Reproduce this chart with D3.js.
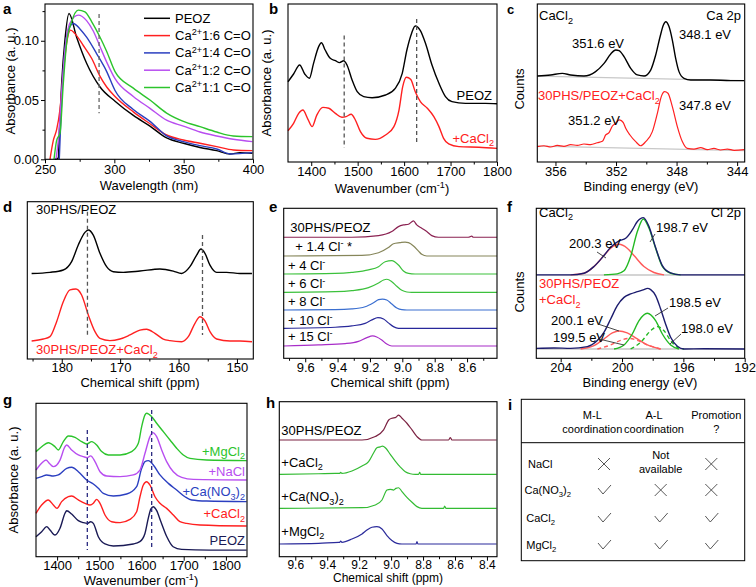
<!DOCTYPE html>
<html><head><meta charset="utf-8">
<script src="https://cdn.jsdelivr.net/npm/d3@7"></script>
<style>body{margin:0;background:#fff}</style></head>
<body><script>
// ---------------- DATA ----------------
// panel a : UV-vis, [wavelength nm, absorbance]
const aNames = ["PEOZ","1:6 C=O","1:4 C=O","1:2 C=O","1:1 C=O"];
const aPEOZ = [[257.2,0],[259.6,0.001],[260.3,0.022],[262.0,0.064],[264.4,0.101],[267.3,0.123],[272.8,0.103],[280,0.081],[289.7,0.061],[300.5,0.049],[313.7,0.037],[325.7,0.028],[337.7,0.018],[349.8,0.0135],[361.8,0.010],[373.8,0.0073],[383.4,0.0045],[390.6,0.0056],[399.5,0.0051]];
const a16 = [[253.6,0],[256.0,0.016],[258.4,0.025],[260.8,0.042],[263.2,0.073],[265.6,0.098],[268.5,0.109],[271.6,0.106],[277.6,0.096],[283.7,0.085],[289.7,0.070],[294.5,0.061],[300.5,0.053],[313.7,0.040],[325.7,0.030],[337.7,0.0205],[349.8,0.0163],[361.8,0.0135],[373.8,0.0107],[385.8,0.0079],[399.5,0.0073]];
const a14 = [[260.3,0],[262.0,0.050],[264.4,0.092],[266.8,0.109],[270.4,0.1146],[275.2,0.110],[280.0,0.103],[287.3,0.089],[294.5,0.074],[300.5,0.058],[313.7,0.042],[325.7,0.032],[337.7,0.0197],[349.8,0.0149],[361.8,0.0115],[373.8,0.0087],[383.4,0.0045],[399.5,0.0056]];
const a12 = [[257.9,0],[259.6,0.016],[262.0,0.056],[264.4,0.092],[268.0,0.115],[274.0,0.1216],[280.0,0.117],[284.9,0.108],[289.7,0.095],[294.5,0.082],[300.5,0.068],[313.7,0.053],[325.7,0.043],[337.7,0.033],[349.8,0.028],[361.8,0.023],[373.8,0.0197],[385.8,0.0169],[399.5,0.0149]];
const a11 = [[256.5,0],[258.4,0.016],[260.8,0.022],[263.2,0.064],[265.6,0.098],[269.2,0.116],[274.0,0.1258],[278.8,0.1244],[283.7,0.116],[289.7,0.103],[294.5,0.091],[300.5,0.074],[313.7,0.060],[325.7,0.050],[337.7,0.039],[349.8,0.032],[361.8,0.0275],[373.8,0.023],[385.8,0.0197],[399.5,0.0191]];
const aTicks = [250,300,350,400];
const aYTicks = [0.00,0.05,0.10];

// panel b : FTIR, [wavenumber, normalized absorbance]
const bPEOZ = [[1350,0.508],[1362,0.557],[1375,0.614],[1386,0.557],[1396,0.530],[1405,0.624],[1416,0.730],[1422,0.755],[1430,0.709],[1441,0.656],[1452,0.641],[1461,0.629],[1470,0.641],[1477,0.614],[1488,0.519],[1499,0.445],[1513,0.414],[1531,0.407],[1560,0.424],[1581,0.466],[1596,0.561],[1606,0.709],[1616,0.814],[1624,0.861],[1635,0.831],[1646,0.751],[1660,0.614],[1675,0.498],[1689,0.414],[1703,0.382],[1732,0.371],[1775,0.371],[1800,0.369]];
const bCaCl2 = [[1350,0.198],[1362,0.245],[1373,0.308],[1382,0.329],[1393,0.270],[1402,0.224],[1412,0.297],[1425,0.346],[1438,0.340],[1452,0.308],[1466,0.283],[1475,0.287],[1486,0.302],[1495,0.266],[1506,0.192],[1520,0.150],[1538,0.143],[1560,0.171],[1578,0.224],[1589,0.329],[1597,0.477],[1605,0.536],[1614,0.523],[1624,0.445],[1635,0.382],[1650,0.340],[1664,0.287],[1675,0.224],[1685,0.150],[1696,0.114],[1718,0.097],[1761,0.093],[1800,0.086]];
const bTicks = [1400,1500,1600,1700,1800];
const bDashes = [1471,1627];

// panel c : XPS Ca 2p, [binding energy eV, counts (norm.)]
const cCaCl2 = [[357.2,0.544],[356.32,0.551],[355.55,0.561],[355.0,0.551],[354.12,0.544],[353.35,0.572],[352.79,0.624],[352.35,0.684],[352.02,0.709],[351.8,0.705],[351.47,0.667],[351.03,0.593],[350.59,0.551],[350.15,0.544],[349.71,0.582],[349.38,0.677],[349.09,0.793],[348.87,0.867],[348.72,0.888],[348.5,0.857],[348.28,0.772],[348.06,0.656],[347.84,0.572],[347.51,0.530],[347.07,0.519],[345.75,0.519],[344.42,0.515],[343.54,0.515]];
const cMix = [[357.2,0.097],[356.76,0.103],[356.32,0.095],[355.88,0.105],[355.44,0.099],[355.0,0.110],[354.56,0.105],[354.12,0.114],[353.68,0.110],[353.24,0.122],[352.9,0.131],[352.68,0.171],[352.46,0.186],[352.24,0.228],[352.02,0.245],[351.8,0.266],[351.65,0.262],[351.52,0.249],[351.36,0.213],[351.08,0.171],[350.7,0.129],[350.37,0.103],[350.04,0.129],[349.6,0.192],[349.27,0.308],[349.01,0.414],[348.79,0.445],[348.57,0.435],[348.28,0.350],[347.95,0.224],[347.62,0.129],[347.29,0.086],[346.85,0.082],[346.41,0.091],[345.97,0.078],[345.53,0.086],[345.09,0.076],[344.64,0.082],[344.2,0.074],[343.54,0.078]];
const cBase1 = [[357.2,0.544],[343.54,0.515]];
const cBase2 = [[357.2,0.101],[343.54,0.072]];
const cTicks = [356,352,348,344];

// panel d : 13C NMR, [ppm, intensity]
const dPure = [[185.16,0.544],[182.02,0.551],[179.74,0.566],[178.31,0.619],[177.17,0.725],[176.03,0.805],[175.45,0.820],[174.6,0.788],[173.46,0.672],[172.32,0.587],[171.17,0.555],[169.46,0.551],[166.61,0.559],[163.18,0.572],[160.9,0.559],[159.47,0.544],[158.05,0.587],[156.9,0.661],[156.16,0.699],[155.48,0.672],[154.62,0.597],[153.48,0.551],[151.77,0.551],[149.48,0.544],[147.43,0.544]];
const dMix = [[185.16,0.114],[183.16,0.127],[182.02,0.142],[180.88,0.237],[179.74,0.364],[178.59,0.439],[177.57,0.445],[176.6,0.407],[175.45,0.280],[174.31,0.174],[173.46,0.131],[171.74,0.117],[170.03,0.127],[168.32,0.153],[166.61,0.184],[165.47,0.189],[164.04,0.163],[162.61,0.127],[161.47,0.117],[159.47,0.110],[158.33,0.142],[157.19,0.227],[156.33,0.269],[155.48,0.242],[154.62,0.174],[153.48,0.127],[151.2,0.114],[149.48,0.114],[147.43,0.110]];
const dTicks = [180,170,160,150];
const dDashes = [175.6,155.9];

// panel e : 1H NMR titration, [ppm, height above own baseline]
const eLabels = ["30PHS/PEOZ","+ 1.4 Cl","+ 4 Cl","+ 6 Cl","+ 8 Cl","+ 10 Cl","+ 15 Cl"];
const eOffsets = [0.807,0.682,0.562,0.440,0.322,0.200,0.082];
const eSpectra = [
 [[9.734,0],[9.312,0],[9.147,0.011],[9.065,0.038],[9.024,0.071],[8.993,0.082],[8.962,0.087],[8.931,0.109],[8.911,0.082],[8.880,0.060],[8.849,0.038],[8.818,0.011],[8.777,0],[8.592,0],[8.571,0.007],[8.561,0],[8.415,0]],
 [[9.734,0],[9.250,0.004],[9.147,0.022],[9.086,0.056],[9.055,0.082],[9.014,0.089],[8.983,0.093],[8.962,0.089],[8.931,0.067],[8.900,0.033],[8.880,0.011],[8.849,0],[8.695,0],[8.415,0]],
 [[9.734,0],[9.415,0.004],[9.312,0.011],[9.209,0.027],[9.147,0.049],[9.106,0.082],[9.065,0.089],[9.024,0.060],[8.993,0.020],[8.962,0.004],[8.921,0],[8.415,0]],
 [[9.734,0],[9.415,0.004],[9.312,0.011],[9.209,0.031],[9.147,0.062],[9.116,0.082],[9.096,0.087],[9.065,0.071],[9.034,0.040],[9.003,0.013],[8.972,0.002],[8.942,0],[8.415,0]],
 [[9.734,0],[9.415,0.002],[9.312,0.007],[9.230,0.022],[9.178,0.049],[9.147,0.069],[9.123,0.073],[9.096,0.067],[9.065,0.040],[9.034,0.013],[9.003,0.002],[8.972,0],[8.415,0]],
 [[9.734,0],[9.415,0.007],[9.312,0.016],[9.230,0.033],[9.188,0.056],[9.151,0.071],[9.116,0.062],[9.086,0.036],[9.055,0.011],[9.024,0],[8.415,0]],
 [[9.734,0],[9.518,0.007],[9.353,0.016],[9.271,0.031],[9.219,0.056],[9.184,0.067],[9.158,0.060],[9.127,0.040],[9.096,0.013],[9.065,0],[8.415,0]]
];
const eTicks = [9.6,9.4,9.2,9.0,8.8,8.6];

// panel f : XPS Cl 2p, [eV, height above baseline]
const fOffsets = [0.556,0.062];
const fEnvTop = [[205.59,0],[203.35,0],[202.48,0.011],[201.83,0.056],[201.18,0.129],[200.74,0.184],[200.2,0.227],[199.76,0.244],[199.33,0.300],[199.0,0.356],[198.61,0.382],[198.24,0.322],[197.81,0.182],[197.37,0.062],[196.83,0.013],[196.18,0],[192.0,0]];
const fRedTop = [[203.35,0],[202.48,0.011],[201.83,0.056],[201.18,0.129],[200.74,0.178],[200.2,0.204],[199.66,0.178],[199.22,0.129],[198.57,0.056],[197.92,0.016],[197.26,0]];
const fGreenTop = [[201.18,0],[200.31,0.007],[199.87,0.027],[199.44,0.122],[199.0,0.289],[198.61,0.373],[198.24,0.311],[197.81,0.178],[197.37,0.056],[196.83,0.011],[196.18,0]];
const fEnvBot = [[205.59,0.004],[204.44,0.007],[203.35,0.004],[202.26,0.016],[201.61,0.056],[201.18,0.111],[200.74,0.200],[200.31,0.289],[199.87,0.344],[199.44,0.367],[199.0,0.382],[198.57,0.396],[198.35,0.404],[198.13,0.396],[197.81,0.356],[197.48,0.267],[197.16,0.167],[196.83,0.078],[196.39,0.018],[195.96,0],[194.66,0.002],[192.0,0]];
const fGreenBot = [[200.52,0],[199.87,0.027],[199.33,0.100],[198.89,0.189],[198.35,0.238],[197.81,0.189],[197.37,0.100],[196.83,0.027],[196.29,0]];
const fRedBot = [[202.7,0],[201.83,0.022],[201.18,0.067],[200.63,0.107],[200.2,0.120],[199.66,0.107],[199.0,0.067],[198.35,0.027],[197.48,0]];
const fRedDash = [[201.61,0],[200.74,0.027],[200.09,0.058],[199.55,0.071],[199.0,0.058],[198.35,0.027],[197.48,0]];
const fGreenDash = [[199.44,0],[198.79,0.044],[198.13,0.122],[197.7,0.149],[197.26,0.122],[196.83,0.056],[196.39,0.011],[195.96,0]];
const fTicks = [204,200,196,192];

// panel g : FTIR of salts, [wavenumber, absorbance]
const gNames = ["PEOZ","+CaCl","+Ca(NO","+NaCl","+MgCl"];
const gPEOZ = [[1350,0.130],[1363.4,0.163],[1375.3,0.196],[1383.2,0.174],[1395,0.141],[1406.9,0.185],[1418.7,0.283],[1422.7,0.300],[1434.5,0.278],[1450.3,0.235],[1462.2,0.222],[1471.6,0.217],[1479.5,0.228],[1485.9,0.217],[1497.7,0.130],[1513.5,0.083],[1533.3,0.070],[1580.6,0.083],[1596,0.098],[1608,0.150],[1616,0.250],[1622,0.310],[1628,0.326],[1636,0.300],[1646,0.228],[1660,0.130],[1675,0.065],[1695,0.048],[1760,0.043],[1849,0.043]];
const gCaCl2 = [[1350,0.283],[1363.4,0.337],[1379.2,0.370],[1391.1,0.337],[1399.8,0.315],[1410.8,0.359],[1426.6,0.391],[1434.5,0.396],[1450.3,0.370],[1466.1,0.348],[1478,0.337],[1485.9,0.348],[1493.8,0.374],[1501.7,0.348],[1513.5,0.272],[1529.3,0.228],[1549.1,0.222],[1572.7,0.243],[1588.5,0.293],[1596.4,0.391],[1604.3,0.467],[1612.2,0.489],[1620.1,0.467],[1632,0.391],[1643.8,0.348],[1659.6,0.315],[1675.4,0.272],[1691.2,0.228],[1707,0.217],[1738.6,0.207],[1849,0.200]];
const gCaNO3 = [[1350,0.511],[1363.4,0.522],[1375.3,0.533],[1391.1,0.526],[1402.9,0.533],[1422.7,0.576],[1434.5,0.583],[1450.3,0.554],[1470.1,0.500],[1485.9,0.474],[1497.7,0.446],[1509.6,0.413],[1533.3,0.396],[1564.8,0.409],[1588.5,0.457],[1600.4,0.576],[1608.3,0.620],[1616.2,0.626],[1628,0.598],[1643.8,0.533],[1663.6,0.478],[1683.3,0.435],[1703.1,0.391],[1718.9,0.370],[1754.4,0.363],[1849,0.359]];
const gNaCl = [[1350,0.565],[1363.4,0.609],[1373.7,0.630],[1383.2,0.604],[1391.1,0.587],[1406.9,0.630],[1418.7,0.717],[1422.7,0.728],[1434.5,0.696],[1450.3,0.663],[1462.2,0.652],[1471.6,0.646],[1479.5,0.657],[1489.8,0.620],[1501.7,0.554],[1517.5,0.526],[1549.1,0.522],[1580.6,0.533],[1596.4,0.565],[1608.3,0.674],[1620.1,0.783],[1626.5,0.809],[1635.9,0.783],[1647.8,0.696],[1659.6,0.620],[1675.4,0.554],[1695.2,0.517],[1722.8,0.504],[1849,0.500]];
const gMgCl2 = [[1350,0.685],[1363.4,0.717],[1379.2,0.743],[1395,0.717],[1402.9,0.696],[1414.8,0.750],[1426.6,0.787],[1442.4,0.778],[1458.2,0.750],[1470.1,0.735],[1481.9,0.750],[1493.8,0.728],[1505.6,0.685],[1521.4,0.663],[1549.1,0.663],[1576.7,0.685],[1592.5,0.739],[1600.4,0.848],[1608.3,0.924],[1612.2,0.935],[1624.1,0.913],[1635.9,0.870],[1651.7,0.815],[1667.5,0.761],[1683.3,0.707],[1699.1,0.663],[1714.9,0.641],[1754.4,0.630],[1849,0.626]];
const gTicks = [1400,1500,1600,1700,1800];
const gDashes = [1471.6,1624.1];

// panel h : 1H NMR of salts, [ppm, height above own baseline]
const hLabels = ["30PHS/PEOZ","+CaCl","+Ca(NO","+MgCl"];
const hOffsets = [0.753,0.531,0.312,0.082];
const hSpectra = [
 [[9.70,0],[9.182,0],[9.099,0.022],[9.047,0.065],[9.015,0.129],[8.995,0.140],[8.970,0.146],[8.953,0.161],[8.932,0.140],[8.901,0.108],[8.869,0.065],[8.838,0.022],[8.807,0],[8.640,0],[8.629,0.015],[8.619,0],[8.34,0]],
 [[9.70,0],[9.454,0.004],[9.349,0.006],[9.322,0.006],[9.316,0.013],[9.308,0.006],[9.245,0.022],[9.182,0.054],[9.141,0.082],[9.109,0.140],[9.089,0.172],[9.068,0.178],[9.053,0.183],[9.036,0.172],[9.005,0.129],[8.974,0.086],[8.942,0.047],[8.911,0.017],[8.880,0.004],[8.848,0],[8.828,0],[8.821,0.013],[8.815,0],[8.34,0]],
 [[9.70,0],[9.182,0.004],[9.099,0.022],[9.057,0.054],[9.026,0.118],[9.005,0.123],[8.984,0.118],[8.970,0.129],[8.953,0.133],[8.932,0.108],[8.901,0.071],[8.869,0.039],[8.838,0.011],[8.807,0],[8.671,0],[8.665,0.015],[8.656,0],[8.34,0]],
 [[9.70,0],[9.454,0.004],[9.329,0.011],[9.322,0.011],[9.316,0.019],[9.308,0.011],[9.245,0.032],[9.182,0.065],[9.151,0.090],[9.120,0.108],[9.089,0.112],[9.057,0.097],[9.026,0.054],[8.995,0.022],[8.963,0.004],[8.932,0],[8.844,0],[8.838,0.015],[8.832,0],[8.34,0]]
];
const hTicks = [9.6,9.4,9.2,9.0,8.8,8.6,8.4];

// panel i : table
const iRows = ["NaCl","Ca(NO3)2","CaCl2","MgCl2"];
const iCols = ["M-L coordination","A-L coordination","Promotion ?"];
const iMarks = [["x","na","x"],["v","x","x"],["v","v","v"],["v","v","v"]];

// ---------------- DRAWING ----------------
const FONT = "'Liberation Sans', Arial, Helvetica, sans-serif";
const svg = d3.select('body').append('svg').attr('width',756).attr('height',587).attr('font-family',FONT);
svg.append('rect').attr('width',756).attr('height',587).attr('fill','#fff');

function rich(x,y,segs,o={}){
  const fs=o.fs||13;
  const t=svg.append('text').attr('x',x).attr('y',y).attr('font-size',fs)
    .attr('fill',o.fill||'#000').attr('text-anchor',o.anchor||'start');
  if(o.rotate) t.attr('transform',`rotate(-90,${x},${y})`);
  if(o.bold) t.attr('font-weight','bold');
  let shift=0;
  segs.forEach(s=>{
    const [txt,type]=Array.isArray(s)?s:[s,''];
    const target = type==='sub'?fs*0.28:(type==='sup'?-fs*0.36:0);
    t.append('tspan').text(txt).attr('dy',target-shift).attr('font-size',type?fs*0.7:fs);
    shift=target;
  });
  return t;
}
function panel(fr,xd,yd){
  return {x:d3.scaleLinear().domain(xd).range([fr[0],fr[1]]),
          y:d3.scaleLinear().domain(yd).range([fr[3],fr[2]]), fr};
}
function frame(p){
  svg.append('rect').attr('x',p.fr[0]).attr('y',p.fr[2]).attr('width',p.fr[1]-p.fr[0])
    .attr('height',p.fr[3]-p.fr[2]).attr('fill','none').attr('stroke','#000').attr('stroke-width',1.1);
}
function xAxis(p,ticks,fmt,o={}){
  const g=svg.append('g').attr('transform',`translate(0,${p.fr[3]})`);
  const minor=[];
  for(let i=0;i<ticks.length-1;i++) minor.push((ticks[i]+ticks[i+1])/2);
  const lo=Math.min(...p.x.domain()), hi=Math.max(...p.x.domain());
  const step=ticks[1]-ticks[0];
  [ticks[0]-step/2, ticks[ticks.length-1]+step/2].forEach(v=>{ if(v>lo&&v<hi) minor.push(v); });
  g.append('g').call(d3.axisBottom(p.x).tickValues(minor).tickSize(2.5).tickFormat(''));
  g.append('g').call(d3.axisBottom(p.x).tickValues(ticks).tickSize(4).tickPadding(o.pad==null?1:o.pad).tickFormat(fmt));
  g.selectAll('.domain').remove();
  g.selectAll('text').attr('font-size',o.fs||13).attr('font-family',FONT).attr('fill','#000');
  g.selectAll('line').attr('stroke','#000');
}
function curve(p,data,color,off=0,o={}){
  const gen=d3.line().x(d=>p.x(d[0])).y(d=>p.y(d[1]+off)).curve(d3.curveMonotoneX);
  svg.append('path').attr('d',gen(data)).attr('fill','none').attr('stroke',color)
    .attr('stroke-width',o.w||1.4).attr('stroke-dasharray',o.dash||null).attr('stroke-linejoin','round');
}
function vdash(p,xv,y0,y1,color){
  svg.append('line').attr('x1',p.x(xv)).attr('x2',p.x(xv)).attr('y1',p.y(y0)).attr('y2',p.y(y1))
    .attr('stroke',color).attr('stroke-width',1.3).attr('stroke-dasharray','4,3');
}
function letter(x,y,t){ rich(x,y,[t],{fs:15,bold:true}); }

// ---- panel a
{
  const p=panel([45,253,4,159.3],[250,400],[0,0.131]);
  const cols=["#000000","#ff2020","#2b3fc0","#b84ef0","#2cc42c"];
  const series=[aPEOZ,a16,a14,a12,a11];
  series.forEach((s,i)=>curve(p,s,cols[i]));
  vdash(p,289,0.1226,0.0389,'#666');
  frame(p);
  xAxis(p,aTicks,d3.format('d'));
  const g=svg.append('g').attr('transform',`translate(${p.fr[0]},0)`);
  g.append('g').call(d3.axisLeft(p.y).tickValues([0.025,0.075,0.125]).tickSize(2.5).tickFormat(''));
  g.append('g').call(d3.axisLeft(p.y).tickValues(aYTicks).tickSize(4).tickPadding(2).tickFormat(d3.format('.2f')));
  g.selectAll('.domain').remove();
  g.selectAll('text').attr('font-size',13).attr('font-family',FONT).attr('fill','#000');
  aNames.forEach((n,i)=>{
    const yy=18.3+i*17.3;
    svg.append('line').attr('x1',144).attr('x2',170).attr('y1',yy).attr('y2',yy).attr('stroke',cols[i]).attr('stroke-width',1.5);
    if(i===0) rich(175,yy+4.5,[n]);
    else rich(175,yy+4.5,["Ca",["2+","sup"],n]);
  });
  rich(149,190,["Wavelength (nm)"],{anchor:'middle'});
  rich(15,81,["Absorbance (a. u.)"],{anchor:'middle',rotate:true});
  letter(3,14,"a");
}
// ---- panel b
{
  const p=panel([288,497,4,162],[1350,1800],[0,1]);
  curve(p,bPEOZ,'#000');
  curve(p,bCaCl2,'#ff2020');
  vdash(p,bDashes[0],0.8,0.09,'#555');
  vdash(p,bDashes[1],0.905,0.11,'#555');
  frame(p);
  xAxis(p,bTicks,d3.format('d'));
  rich(492,100,["PEOZ"],{anchor:'end'});
  rich(494,142.5,["+CaCl",["2","sub"]],{anchor:'end',fill:'#ff2020'});
  rich(392,192.5,["Wavenumber (cm",["-1","sup"],")"],{anchor:'middle'});
  rich(271,83,["Absorbance (a. u.)"],{anchor:'middle',rotate:true});
  letter(269,14,"b");
}
// ---- panel c
{
  const p=panel([537.3,744.7,4,162],[357.2,343.5],[0,1]);
  curve(p,cBase1,'#c8c8c8',0,{w:1.2});
  curve(p,cBase2,'#c8c8c8',0,{w:1.2});
  curve(p,cCaCl2,'#000');
  curve(p,cMix,'#ff2020',0,{w:1.2});
  frame(p);
  xAxis(p,cTicks,d3.format('d'));
  rich(539,20,["CaCl",["2","sub"]]);
  rich(741,20,["Ca 2p"],{anchor:'end'});
  rich(572,48.3,["351.6 eV"]);
  rich(679,39.3,["348.1 eV"]);
  rich(538,100,["30PHS/PEOZ+CaCl",["2","sub"]],{fill:'#ff2020'});
  rich(679,110,["347.8 eV"]);
  rich(568,125,["351.2 eV"]);
  rich(641,191,["Binding energy (eV)"],{anchor:'middle'});
  rich(524,89,["Counts"],{anchor:'middle',rotate:true});
  rich(507,14,["c"],{fs:13,bold:true});
}
// ---- panel d
{
  const p=panel([27.3,253.3,201.7,359],[185.9,147.2],[0,1]);
  curve(p,dPure,'#000');
  curve(p,dMix,'#ff2020');
  vdash(p,dDashes[0],0.936,0.142,'#555');
  vdash(p,dDashes[1],0.788,0.153,'#555');
  frame(p);
  xAxis(p,dTicks,d3.format('d'),{pad:0});
  rich(36,214.3,["30PHS/PEOZ"]);
  rich(36,354.3,["30PHS/PEOZ+CaCl",["2","sub"]],{fill:'#ff2020'});
  rich(140,387,["Chemical shift (ppm)"],{anchor:'middle'});
  letter(3,212,"d");
}
// ---- panel e
{
  const p=panel([283.7,497,208.3,358.3],[9.733,8.415],[0,1]);
  const cols=["#8b2252","#86865a","#3cc13c","#3cc13c","#3b6fd0","#28289a","#a82dc8"];
  eSpectra.forEach((s,i)=>curve(p,s,cols[i],eOffsets[i],{w:1.2}));
  frame(p);
  xAxis(p,eTicks,d3.format('.1f'),{pad:0});
  const lx=[290.3,295.3,288,288,288,288,288];
  const ly=[231.7,251,270,288.3,306,325,340.7];
  eLabels.forEach((t,i)=>{
    if(i===0) rich(lx[i],ly[i],[t]);
    else if(i===1) rich(lx[i],ly[i],[t,["-","sup"]," *"]);
    else rich(lx[i],ly[i],[t,["-","sup"]]);
  });
  rich(390,387,["Chemical shift (ppm)"],{anchor:'middle'});
  letter(269,212,"e");
}
// ---- panel f
{
  const p=panel([536.3,744.7,208.3,358.3],[205.59,192],[0,1]);
  const base=[[205.59,0],[192,0]];
  curve(p,base,'#d4d4d4',fOffsets[0],{w:2});
  curve(p,base,'#d4d4d4',fOffsets[1],{w:2});
  curve(p,fRedTop,'#ff5a5a',fOffsets[0]);
  curve(p,fGreenTop,'#22b922',fOffsets[0]);
  curve(p,fEnvTop,'#1c1c6e',fOffsets[0]);
  curve(p,fRedBot,'#ff5a5a',fOffsets[1]);
  curve(p,fRedDash,'#ff5a5a',fOffsets[1],{dash:'4,3'});
  curve(p,fGreenBot,'#22b922',fOffsets[1]);
  curve(p,fGreenDash,'#22b922',fOffsets[1],{dash:'4,3'});
  curve(p,fEnvBot,'#1c1c6e',fOffsets[1]);
  frame(p);
  xAxis(p,fTicks,d3.format('d'),{pad:0});
  const lead=(x1,y1,x2,y2)=>svg.append('line').attr('x1',x1).attr('y1',y1).attr('x2',x2).attr('y2',y2).attr('stroke','#333').attr('stroke-width',0.9);
  rich(539,216.7,["CaCl",["2","sub"]]);
  rich(741,216.7,["Cl 2p"],{anchor:'end'});
  rich(569,248.3,["200.3 eV"]);
  lead(597,252,606,258);
  rich(656,231.7,["198.7 eV"]);
  lead(655,234,650,242);
  rich(539,288.3,["30PHS/PEOZ"],{fill:'#ff2020'});
  rich(539,304.3,["+CaCl",["2","sub"]],{fill:'#ff2020'});
  rich(669,306.7,["198.5 eV"]);
  lead(668,308,655,316);
  rich(551,325,["200.1 eV"]);
  lead(598,324,619,331);
  rich(553,341.7,["199.5 eV"]);
  lead(599,339,624,345);
  rich(681,333.3,["198.0 eV"]);
  lead(681,334,670,344);
  rich(640,387,["Binding energy (eV)"],{anchor:'middle'});
  rich(524,292,["Counts"],{anchor:'middle',rotate:true});
  letter(507,212,"f");
}
// ---- panel g
{
  const p=panel([36,247,403.3,556.7],[1350,1850],[0,1]);
  const cols=["#1a1a55","#ff2020","#2b3fc0","#b84ef0","#2cc42c"];
  const series=[gPEOZ,gCaCl2,gCaNO3,gNaCl,gMgCl2];
  series.forEach((s,i)=>curve(p,s,cols[i]));
  vdash(p,gDashes[0],0.826,0.043,'#2a2a80');
  vdash(p,gDashes[1],0.957,0.043,'#2a2a80');
  frame(p);
  xAxis(p,gTicks,d3.format('d'),{pad:0});
  rich(245,545,["PEOZ"],{anchor:'end',fill:cols[0]});
  rich(245,518.3,["+CaCl",["2","sub"]],{anchor:'end',fill:cols[1]});
  rich(245,496,["+Ca(NO",["3","sub"],")",["2","sub"]],{anchor:'end',fill:cols[2]});
  rich(245,476,["+NaCl"],{anchor:'end',fill:cols[3]});
  rich(245,455.7,["+MgCl",["2","sub"]],{anchor:'end',fill:cols[4]});
  rich(141,585,["Wavenumber (cm",["-1","sup"],")"],{anchor:'middle'});
  rich(18,480,["Absorbance (a. u.)"],{anchor:'middle',rotate:true});
  letter(3,405,"g");
}
// ---- panel h
{
  const p=panel([279.3,497,401.7,556.7],[9.70,8.337],[0,1]);
  const cols=["#7b2242","#33bb33","#33bb33","#2b2b9b"];
  hSpectra.forEach((s,i)=>curve(p,s,cols[i],hOffsets[i],{w:1.2}));
  frame(p);
  xAxis(p,hTicks,d3.format('.1f'),{pad:0,fs:12});
  rich(281.3,435,["30PHS/PEOZ"]);
  rich(281.3,466.7,["+CaCl",["2","sub"]]);
  rich(281.3,501,["+Ca(NO",["3","sub"],")",["2","sub"]]);
  rich(281.3,535.7,["+MgCl",["2","sub"]]);
  rich(388,582,["Chemical shift (ppm)"],{anchor:'middle',fs:12});
  letter(266,408,"h");
}
// ---- panel i : table
{
  const x0=521.3,x1=744.7,y0=399.3,y1=560.7,ySep=442.7;
  svg.append('rect').attr('x',x0).attr('y',y0).attr('width',x1-x0).attr('height',y1-y0).attr('fill','none').attr('stroke','#000').attr('stroke-width',1);
  svg.append('line').attr('x1',x0).attr('x2',x1).attr('y1',ySep).attr('y2',ySep).attr('stroke','#000');
  const colX=[604,660.7,711.3];
  const rowY=[464,490,518,545];
  iCols.forEach((c,i)=>{
    const parts = i<2 ? [c.split(' ')[0], c.split(' ')[1]] : ["Promotion","?"];
    const cx = i===2?716.3:(i===0?592.3:654);
    rich(cx,418.5,[parts[0]],{anchor:'middle',fs:11});
    rich(cx,432.8,[parts[1]],{anchor:'middle',fs:11});
  });
  const rowLabels=[["NaCl"],["Ca(NO",["3","sub"],")",["2","sub"]],["CaCl",["2","sub"]],["MgCl",["2","sub"]]];
  const rowLX=[528,524.5,526.3,526.3];
  rowLabels.forEach((r,i)=>rich(rowLX[i],rowY[i]+4,r,{fs:11}));
  iMarks.forEach((row,ri)=>row.forEach((m,ci)=>{
    const cx=colX[ci], cy=rowY[ri];
    if(m==='x'){
      svg.append('path').attr('d',`M${cx-6},${cy-6}L${cx+6},${cy+6}M${cx-6},${cy+6}L${cx+6},${cy-6}`).attr('stroke','#444').attr('stroke-width',0.9).attr('fill','none');
    } else if(m==='v'){
      svg.append('path').attr('d',`M${cx-6},${cy-2}L${cx-1},${cy+4}L${cx+7},${cy-5}`).attr('stroke','#444').attr('stroke-width',0.9).attr('fill','none');
    } else {
      rich(cx,cy-5,["Not"],{anchor:'middle',fs:11});
      rich(cx,cy+9,["available"],{anchor:'middle',fs:11});
    }
  }));
  letter(508,410,"i");
}
</script></body></html>
